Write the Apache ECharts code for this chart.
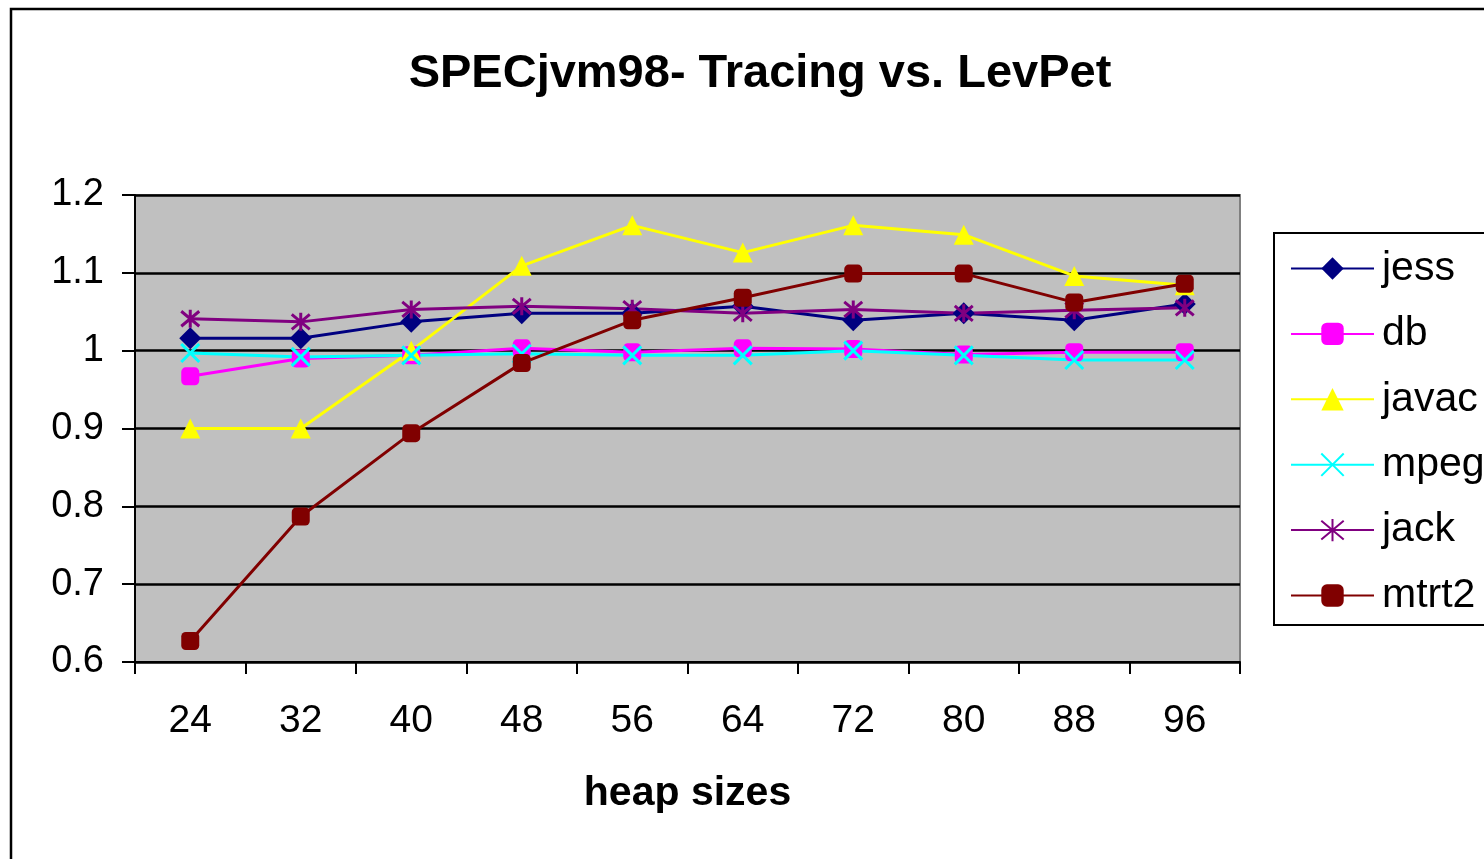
<!DOCTYPE html>
<html>
<head>
<meta charset="utf-8">
<script src="https://cdn.jsdelivr.net/npm/echarts@6/dist/echarts.min.js"></script>
<style>html,body{margin:0;padding:0;background:#fff;}#c{width:1484px;height:859px;}</style>
</head>
<body>
<div id="c"></div>
<script>
const categories = ['24','32','40','48','56','64','72','80','88','96'];
const jess  = [1.016, 1.016, 1.037, 1.048, 1.048, 1.057, 1.039, 1.048, 1.039, 1.060];
const db    = [0.967, 0.990, 0.994, 1.003, 0.998, 1.003, 1.002, 0.995, 0.998, 0.998];
const javac = [0.900, 0.900, 1.000, 1.109, 1.161, 1.126, 1.161, 1.149, 1.096, 1.084];
const mpeg  = [0.997, 0.992, 0.994, 0.996, 0.994, 0.994, 1.000, 0.994, 0.988, 0.988];
const jack  = [1.041, 1.037, 1.053, 1.057, 1.054, 1.048, 1.053, 1.048, 1.052, 1.055];
const mtrt2 = [0.627, 0.787, 0.894, 0.984, 1.039, 1.068, 1.099, 1.099, 1.062, 1.086];
const yTicks = ['0.6','0.7','0.8','0.9','1','1.1','1.2'];

const FONT = 'Liberation Sans, Arial, sans-serif';
const chart = echarts.init(document.getElementById('c'));

function mk(name, data, color, symbol, size, stroke) {
  return {
    name, type: 'line', data,
    symbol, symbolSize: size,
    showAllSymbol: true,
    lineStyle: { color, width: 3 },
    itemStyle: stroke ? { color: 'rgba(0,0,0,0)', borderColor: color, borderWidth: 3 } : { color, borderWidth: 0 },
    emphasis: { disabled: true },
    animation: false
  };
}

chart.setOption({
  animation: false,
  backgroundColor: '#ffffff',
  title: {
    text: 'SPECjvm98- Tracing vs. LevPet',
    left: 755, top: 46, textAlign: 'center',
    textStyle: { fontFamily: FONT, fontSize: 47, fontWeight: 'bold', color: '#000' }
  },
  grid: { left: 135, right: 244, top: 195, bottom: 197, show: true, backgroundColor: '#c0c0c0', borderColor: '#808080', borderWidth: 2 },
  legend: {
    orient: 'vertical', left: 1285, top: 243,
    itemWidth: 83, itemHeight: 28, itemGap: 24.4,
    lineStyle: { width: 2 },
    textStyle: { fontFamily: FONT, fontSize: 41, color: '#000', lineHeight: 41, padding: [0, 0, 0, 3] },
    data: ['jess','db','javac','mpeg','jack','mtrt2']
  },
  graphic: [
    { type: 'rect', shape: { x: 11, y: 9, width: 1500, height: 900 }, style: { fill: 'none', stroke: '#000', lineWidth: 2.5 }, z: -1, silent: true },
    { type: 'rect', shape: { x: 1274, y: 233, width: 240, height: 392 }, style: { fill: '#fff', stroke: '#000', lineWidth: 2 }, z: 0, silent: true }
  ],
  xAxis: {
    type: 'category', data: categories, boundaryGap: true,
    name: 'heap sizes', nameLocation: 'middle', nameGap: 111,
    nameTextStyle: { fontFamily: FONT, fontSize: 41, fontWeight: 'bold', color: '#000' },
    axisLine: { lineStyle: { color: '#000', width: 2 } },
    axisTick: { show: true, length: 12, lineStyle: { color: '#000', width: 2 } },
    axisLabel: { fontFamily: FONT, fontSize: 39, color: '#000', margin: 40 },
    splitLine: { show: false }
  },
  yAxis: {
    type: 'value', min: 0.6, max: 1.2, interval: 0.1,
    axisLine: { show: true, lineStyle: { color: '#000', width: 2 } },
    axisTick: { show: true, length: 13, lineStyle: { color: '#000', width: 2 } },
    axisLabel: { fontFamily: FONT, fontSize: 38, color: '#000', margin: 31,
      formatter: v => { const s = String(parseFloat(v.toFixed(1))); return yTicks.includes(s) ? s : ''; } },
    splitLine: { show: true, lineStyle: { color: '#000', width: 2.5 } }
  },
  series: [
    mk('jess', jess, '#000080', 'diamond', 22, false),
    mk('db', db, '#ff00ff', 'roundRect', 18, false),
    mk('javac', javac, '#ffff00', 'triangle', 20, false),
    mk('mpeg', mpeg, '#00ffff', 'path://M0,0 L10,10 M10,0 L0,10', 18, true),
    mk('jack', jack, '#800080', 'path://M0,0 L10,10 M10,0 L0,10 M5,-1 L5,11', 18, true),
    mk('mtrt2', mtrt2, '#800000', 'roundRect', 18, false)
  ]
});
</script>
</body>
</html>
